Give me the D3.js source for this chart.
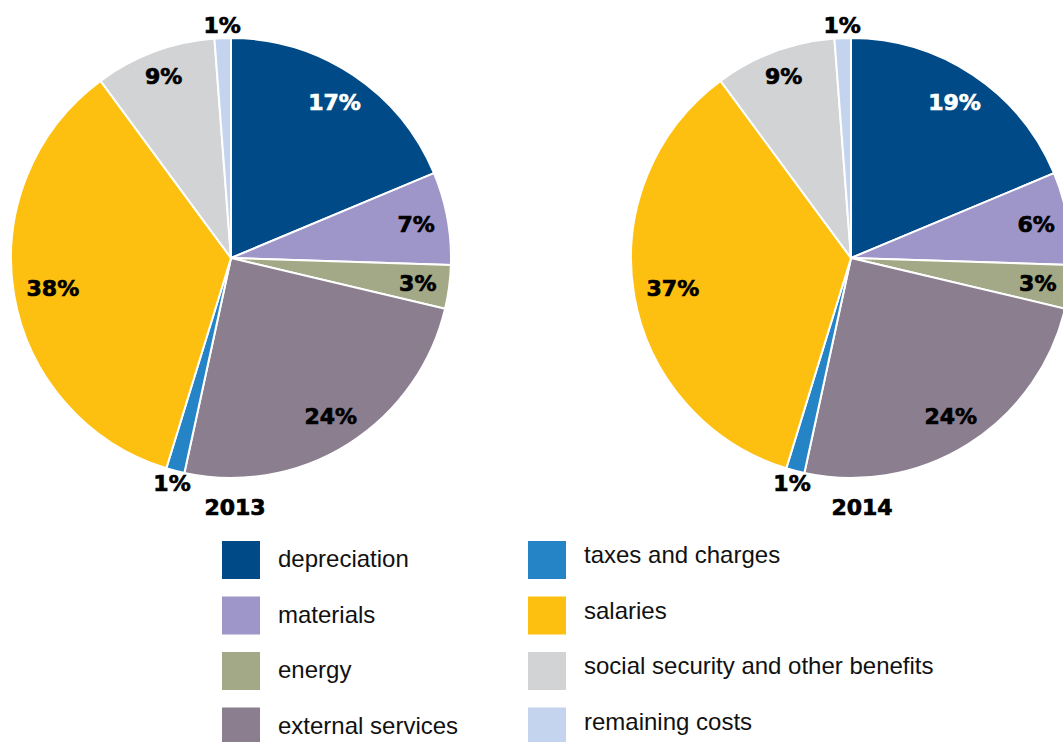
<!DOCTYPE html>
<html>
<head>
<meta charset="utf-8">
<script src="https://cdn.jsdelivr.net/npm/d3@7"></script>
<style>
  body { margin: 0; background: #fff; }
  svg { display: block; }
  .pct { font-family: "DejaVu Sans", sans-serif; font-weight: bold; font-size: 22px; stroke-width: 0.7px; }
  .year { font-family: "DejaVu Sans", sans-serif; font-weight: bold; font-size: 22px; stroke: #000; stroke-width: 0.7px; }
  .legend text { font-family: "Liberation Sans", Arial, sans-serif; font-size: 24px; fill: #111; }
</style>
</head>
<body>
<svg width="1063" height="742"></svg>
<script>
var categories = ["depreciation", "materials", "energy", "external services",
  "taxes and charges", "salaries", "social security and other benefits", "remaining costs"];
var colors = ["#004b87", "#9e96c8", "#a3a886", "#8a7e8f", "#2584c6", "#fec010", "#d2d3d5", "#c5d4ee"];

// slice sizes as drawn (both pies are drawn with the same geometry)
var slices2013 = [18.7, 6.8, 3.2, 24.7, 1.35, 35.15, 8.9, 1.2];
var slices2014 = [18.7, 6.8, 3.2, 24.7, 1.35, 35.15, 8.9, 1.2];
// percentage labels printed on the slices
var labels2013 = [17, 7, 3, 24, 1, 38, 9, 1];
var labels2014 = [19, 6, 3, 24, 1, 37, 9, 1];

var svg = d3.select("svg"),
  radius = 220;

var pies = [
  { year: "2013", cx: 231, slices: slices2013, labels: labels2013, titleDx: 4 },
  { year: "2014", cx: 851, slices: slices2014, labels: labels2014, titleDx: 11 }
];

var pie = d3.pie().sort(null).value(function(d) { return d.value; });
var arc = d3.arc().innerRadius(0).outerRadius(radius);
var outLabel = d3.arc().innerRadius(233).outerRadius(233);

pies.forEach(function(p) {
  var data = p.slices.map(function(v, i) {
    return { name: categories[i], value: v, label: p.labels[i], color: colors[i] };
  });
  var g = svg.append("g").attr("transform", "translate(" + p.cx + ",258)");
  var arcs = pie(data);

  g.selectAll("path")
    .data(arcs)
    .enter().append("path")
    .attr("d", arc)
    .attr("fill", function(d) { return d.data.color; })
    .attr("stroke", "#fff")
    .attr("stroke-width", 2)
    .attr("stroke-linejoin", "round");

  var txt = g.selectAll("text.pct")
    .data(arcs)
    .enter().append("text")
    .attr("class", "pct")
    .attr("dy", "0.36em")
    .attr("text-anchor", "middle")
    .attr("fill", function(d, i) { return i === 0 ? "#fff" : "#000"; })
    .attr("stroke", function(d, i) { return i === 0 ? "#fff" : "#000"; })
    .text(function(d) { return d.data.label + "%"; });

  // fit inside labels so their box stays clear of the rim
  txt.attr("transform", function(d) {
    if (d.data.value < 2) return "translate(" + outLabel.centroid(d) + ")";
    var bb = this.getBBox();
    var a = (d.startAngle + d.endAngle) / 2;
    var ext = Math.abs(Math.sin(a)) * bb.width / 2 + Math.abs(Math.cos(a)) * 8;
    var r = radius - 12 - ext;
    return "translate(" + (Math.sin(a) * r) + "," + (-Math.cos(a) * r) + ")";
  });

  svg.append("text")
    .attr("class", "year")
    .attr("x", p.cx + p.titleDx)
    .attr("y", 515)
    .attr("text-anchor", "middle")
    .text(p.year);
});

var legend = svg.append("g").attr("class", "legend");
var item = legend.selectAll("g")
  .data(categories)
  .enter().append("g")
  .attr("transform", function(d, i) {
    var col = Math.floor(i / 4), row = i % 4;
    return "translate(" + (col === 0 ? 222 : 528) + "," + (541 + row * 55.5) + ")";
  });

item.append("rect")
  .attr("width", 38)
  .attr("height", 38)
  .attr("fill", function(d, i) { return colors[i]; });

item.append("text")
  .attr("x", 56)
  .attr("y", function(d, i) { return i < 4 ? 26 : 22; })
  .text(function(d) { return d; });
</script>
</body>
</html>
